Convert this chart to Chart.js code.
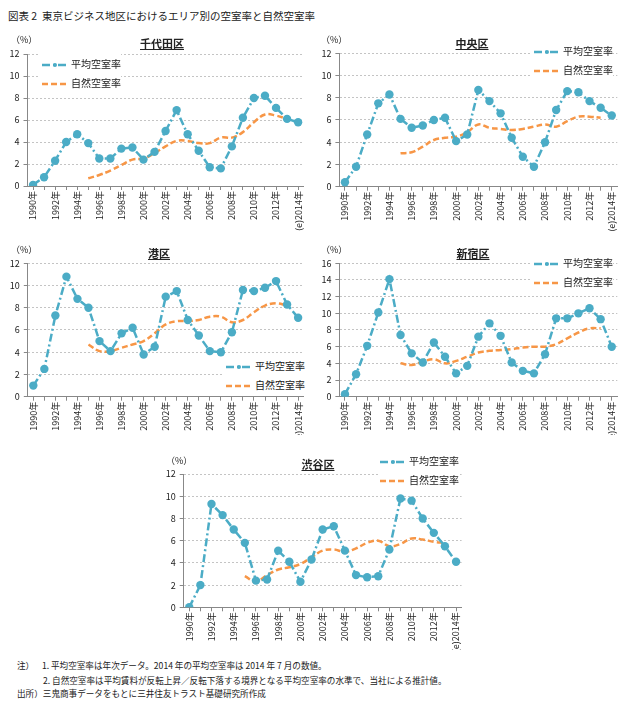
<!DOCTYPE html>
<html>
<head>
<meta charset="utf-8">
<script src="https://cdn.jsdelivr.net/npm/chart.js@4.4.0/dist/chart.umd.min.js"></script>
<style>
body { margin: 0; background: #fff; font-family: "Noto Sans CJK JP", sans-serif; color: #222; }
#page { position: relative; width: 633px; height: 710px; overflow: hidden; }
.panel { position: absolute; }
.panel canvas { display: block; }
.abs { position: absolute; white-space: nowrap; }
.ttl { font-weight: bold; font-size: 11px; line-height: 14px; background: #fff; text-align: center; }
.ttl span { text-decoration: underline; }
.pct { font-size: 9px; line-height: 10px; }
.lg { background: #fff; font-size: 10px; line-height: 19px; padding-left: 2px; }
.lg svg { vertical-align: middle; margin-right: 3px; }
#head { left: 8px; top: 8px; font-size: 10.5px; }
.note { font-size: 8.6px; line-height: 11px; }
</style>
</head>
<body>
<div id="page">
  <div class="abs" id="head">図表 2&nbsp;&nbsp;東京ビジネス地区におけるエリア別の空室率と自然空室率</div>
</div>
<script>
// x軸ラベル
const years = ['1990年', '1991年', '1992年', '1993年', '1994年', '1995年', '1996年', '1997年', '1998年',
    '1999年', '2000年', '2001年', '2002年', '2003年', '2004年', '2005年', '2006年', '2007年', '2008年',
    '2009年', '2010年', '2011年', '2012年', '2013年', '(e)2014年'];

// 千代田区
const chiyodaAvg = [0.1, 0.8, 2.3, 4.0, 4.7, 3.9, 2.5, 2.5, 3.4, 3.5, 2.4, 3.1, 5.0, 6.9, 4.7, 3.2, 1.7, 1.6, 3.6, 6.2, 8.0, 8.2, 7.1, 6.1, 5.8];
const chiyodaNat = [null, null, null, null, null, 0.7, 1.0, 1.4, 1.9, 2.4, 2.5, 3.0, 3.6, 4.1, 4.1, 3.9, 3.9, 4.4, 4.4, 4.9, 5.8, 6.5, 6.4, 6.1, null];
// 中央区
const chuoAvg = [0.4, 1.8, 4.7, 7.5, 8.3, 6.1, 5.3, 5.5, 6.0, 6.2, 4.1, 4.7, 8.7, 7.7, 6.6, 4.4, 2.7, 1.8, 4.0, 6.9, 8.6, 8.5, 7.7, 7.1, 6.4];
const chuoNat = [null, null, null, null, null, 3.0, 3.1, 3.6, 4.2, 4.4, 4.5, 4.9, 5.6, 5.3, 5.2, 5.1, 5.2, 5.4, 5.6, 5.4, 5.9, 6.3, 6.3, 6.2, null];
// 港区
const minatoAvg = [1.0, 2.5, 7.3, 10.8, 8.8, 8.0, 5.0, 4.1, 5.7, 6.2, 3.8, 4.5, 9.0, 9.5, 6.9, 5.5, 4.1, 4.0, 5.8, 9.6, 9.5, 9.8, 10.4, 8.3, 7.1];
const minatoNat = [null, null, null, null, null, 4.7, 4.1, 4.1, 4.4, 4.7, 5.0, 5.7, 6.5, 6.8, 6.8, 6.9, 7.2, 7.2, 6.7, 6.9, 7.6, 8.2, 8.4, 8.2, null];
// 新宿区
const shinjukuAvg = [0.3, 2.7, 6.1, 10.1, 14.1, 7.4, 5.2, 4.1, 6.5, 4.8, 2.8, 3.7, 7.2, 8.8, 7.3, 4.1, 3.1, 2.8, 5.1, 9.4, 9.4, 10.0, 10.6, 9.3, 6.0];
const shinjukuNat = [null, null, null, null, null, 4.0, 3.8, 4.2, 4.5, 4.0, 4.3, 4.8, 5.3, 5.5, 5.6, 5.7, 5.9, 6.0, 6.0, 6.3, 7.0, 7.7, 8.2, 8.2, null];
// 渋谷区
const shibuyaAvg = [0.0, 2.0, 9.3, 8.3, 7.0, 5.8, 2.4, 2.5, 5.1, 4.1, 2.3, 4.3, 7.0, 7.3, 5.1, 2.9, 2.7, 2.8, 5.2, 9.8, 9.6, 8.0, 6.7, 5.5, 4.1];
const shibuyaNat = [null, null, null, null, null, 2.8, 2.3, 2.9, 3.4, 3.6, 3.9, 4.5, 5.1, 5.2, 5.0, 5.3, 5.8, 6.0, 5.5, 5.7, 6.2, 6.1, 5.9, 5.8, null];

const TEAL = '#4BACC6';
const ORANGE = '#F79646';

const page = document.getElementById('page');

function addDiv(cls, html, css) {
    const d = document.createElement('div');
    d.className = 'abs ' + cls;
    d.innerHTML = html;
    Object.assign(d.style, css);
    page.appendChild(d);
    return d;
}

function legendHtml() {
    const avgSvg = '<svg width="26" height="8"><line x1="0" y1="4" x2="26" y2="4" stroke="' + TEAL + '" stroke-width="2.5" stroke-dasharray="8,3,2,3"/><circle cx="13" cy="4" r="2" fill="' + TEAL + '"/></svg>';
    const natSvg = '<svg width="26" height="8"><line x1="0" y1="4" x2="26" y2="4" stroke="' + ORANGE + '" stroke-width="2.5" stroke-dasharray="6,3"/></svg>';
    return '<div>' + avgSvg + '平均空室率</div><div>' + natSvg + '自然空室率</div>';
}

// p: panel position; left/top/right/bottom: chart area edges inside the panel
function makePanel(p) {
    const box = document.createElement('div');
    box.className = 'panel';
    Object.assign(box.style, { left: p.x + 'px', top: p.y + 'px', width: p.w + 'px', height: p.h + 'px' });
    const cv = document.createElement('canvas');
    cv.width = p.w;
    cv.height = p.h;
    cv.style.width = p.w + 'px';
    cv.style.height = p.h + 'px';
    box.appendChild(cv);
    page.appendChild(box);

    new Chart(cv.getContext('2d'), {
        type: 'line',
        data: {
            labels: years,
            datasets: [
                { label: '平均空室率', data: p.avg, borderColor: TEAL, backgroundColor: TEAL,
                  borderWidth: 2.5, borderDash: [8, 3, 2, 3], pointRadius: 4.2, pointBorderWidth: 0,
                  tension: 0, fill: false },
                { label: '自然空室率', data: p.nat, borderColor: ORANGE, borderWidth: 2.5,
                  borderDash: [6, 3], pointRadius: 0, tension: 0.4, fill: false }
            ]
        },
        options: {
            responsive: false,
            animation: false,
            devicePixelRatio: 1,
            layout: { padding: { left: 0, top: p.top, right: p.w - p.right, bottom: 0 } },
            plugins: { legend: { display: false }, tooltip: { enabled: false } },
            scales: {
                x: {
                    offset: true,
                    grid: { display: true, drawOnChartArea: false, offset: false, tickLength: 4, color: '#888' },
                    border: { color: '#888' },
                    ticks: {
                        autoSkip: false, maxRotation: 90, minRotation: 90, padding: 1,
                        font: { family: 'Noto Sans CJK JP', size: 9 }, color: '#222',
                        callback: function(v, i) { return i % 2 === 0 ? this.getLabelForValue(v) : ''; }
                    },
                    afterFit: function(s) { s.height = p.h - p.bottom; }
                },
                y: {
                    min: 0, max: p.max,
                    grid: { color: '#c4c4c4', tickLength: 4, tickColor: '#888' },
                    border: { color: '#888', dash: [2, 2] },
                    ticks: { stepSize: 2, autoSkip: false, padding: 4, font: { family: 'Noto Sans CJK JP', size: 9 }, color: '#222' },
                    afterFit: function(s) { s.width = p.left; }
                }
            }
        }
    });

    addDiv('pct', '（%）', { left: (p.x + p.pctX) + 'px', top: (p.y + p.pctY) + 'px' });
    addDiv('ttl', '<span>' + p.name + '</span>', { left: (p.x + p.tX) + 'px', top: (p.y + p.tY) + 'px', width: p.tW + 'px' });
    addDiv('lg', legendHtml(), { left: (p.x + p.lX) + 'px', top: (p.y + p.lY) + 'px' });
}

const panels = [
    { name: '千代田区', avg: chiyodaAvg, nat: chiyodaNat, max: 12, x: 0, y: 30, w: 310, h: 205,
      left: 27.5, top: 24, right: 305.5, bottom: 156, pctX: 11, pctY: 5, tX: 127, tY: 6, tW: 70, lX: 40, lY: 24 },
    { name: '中央区', avg: chuoAvg, nat: chuoNat, max: 12, x: 310, y: 30, w: 323, h: 205,
      left: 29.4, top: 23.3, right: 307.3, bottom: 156.7, pctX: 11, pctY: 5, tX: 127, tY: 6, tW: 70, lX: 222, lY: 11 },
    { name: '港区', avg: minatoAvg, nat: minatoNat, max: 12, x: 0, y: 230, w: 310, h: 205,
      left: 27.8, top: 33.3, right: 305.6, bottom: 166.7, pctX: 11, pctY: 15, tX: 124, tY: 16, tW: 70, lX: 224, lY: 126 },
    { name: '新宿区', avg: shinjukuAvg, nat: shinjukuNat, max: 16, x: 310, y: 230, w: 323, h: 205,
      left: 29.4, top: 33.3, right: 307.3, bottom: 166.7, pctX: 11, pctY: 15, tX: 128, tY: 16, tW: 70, lX: 222, lY: 23 },
    { name: '渋谷区', avg: shibuyaAvg, nat: shibuyaNat, max: 12, x: 150, y: 450, w: 330, h: 200,
      left: 33.7, top: 24, right: 311.6, bottom: 157.3, pctX: 16, pctY: 6, tX: 133, tY: 7, tW: 70, lX: 228, lY: 1 }
];

panels.forEach(makePanel);

addDiv('note', '注）&nbsp;&nbsp;&nbsp;&nbsp;1. 平均空室率は年次データ。2014 年の平均空室率は 2014 年 7 月の数値。', { left: '17px', top: '660px' });
addDiv('note', '2. 自然空室率は平均賃料が反転上昇／反転下落する境界となる平均空室率の水準で、当社による推計値。', { left: '43px', top: '675px' });
addDiv('note', '出所）三鬼商事データをもとに三井住友トラスト基礎研究所作成', { left: '17px', top: '688px' });
</script>
</body>
</html>
